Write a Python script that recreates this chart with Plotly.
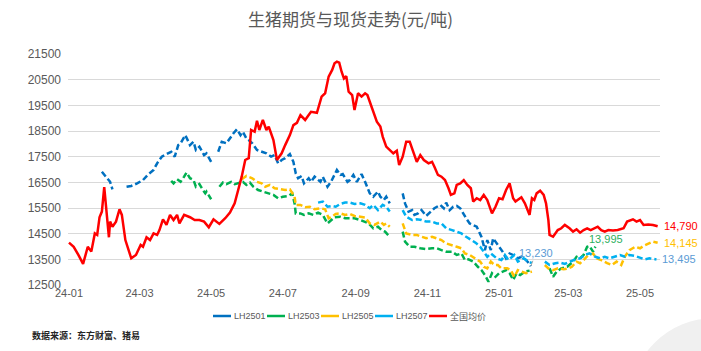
import pandas as pd
import plotly.graph_objects as go

BASE = pd.Timestamp("2024-01-01")

# (days since 2024-01-01, value); None marks a trading gap
lh2501 = [(28,16910),(32,16660),(35,16520),(37,16230),(43,None),(49,16330),(53,16360),(58,16460),(63,16590),
          (67,16790),(72,16980),(75,17240),(79,17500),(83,17600),(87,17690),(90,17500),(93,17950),(95,18020),
          (99,18340),(103,17950),(106,18080),(108,17760),(111,17890),(115,17560),(117,17630),(121,17300),
          (124,None),(127,17690),(130,18080),(134,18020),(138,18300),(140,18410),(143,18570),(146,18340),
          (148,18470),(151,18210),(153,18150),(156,18020),(160,17760),(164,17690),(168,17630),(172,17500),
          (175,17560),(178,17240),(181,17370),(184,17440),(188,17600),(191,17300),(193,16850),(195,16660),
          (198,16750),(200,16460),(204,16660),(206,16520),(209,16720),(214,16520),(216,16720),(220,16330),
          (223,16520),(228,16980),(231,16790),(233,16820),(237,16520),(239,16590),(242,16790),(245,16520),
          (247,16660),(249,16820),(252,16520),(256,16070),(259,15940),(263,16140),(265,15940),(268,15810),
          (270,15940),(273,15680),(279,None),(284,16070),(286,15680),(289,15360),(292,15420),(294,15230),
          (297,15290),(300,15420),(304,15190),(308,15360),(311,15490),(316,15620),(319,15490),(321,15710),
          (324,15420),(327,15550),(330,15580),(333,15490),(336,15230),(338,15100),(341,14900),(344,14840),
          (347,14770),(349,14580),(351,14380),(354,13860),(356,14250),(359,13860),(361,14320),(363,14190),
          (366,13990),(369,13800),(372,13540),(375,13730),(378,13670),(382,13540),(385,13600),(389,13470),
          (392,13320),(393,13230)]

lh2503 = [(87,16560),(89,16460),(92,16620),(95,16520),(98,16720),(100,16880),(103,16660),(106,16590),
          (108,16330),(111,16430),(114,16200),(116,16070),(117,16140),(121,15840),(124,None),(128,16330),
          (131,16490),(134,16430),(138,16520),(141,16430),(145,16490),(148,16520),(151,16400),(154,16490),
          (157,16330),(161,16200),(165,16140),(170,16070),(174,16010),(178,15880),(182,15940),(187,15970),
          (190,16070),(192,15680),(193,15290),(197,15290),(200,15230),(204,15290),(208,15230),(212,15320),
          (216,15230),(220,14900),(223,15030),(226,15140),(231,15160),(235,15100),(239,15100),(243,15100),
          (248,15030),(252,14970),(255,14900),(259,14710),(263,14770),(266,14640),(269,14580),(273,14380),
          (279,None),(284,14580),(286,14190),(290,13990),(294,13990),(299,13930),(304,13900),(309,13930),
          (313,13930),(317,13860),(321,13800),(326,13800),(330,13670),(334,13730),(337,13470),(340,13500),
          (344,13410),(348,13210),(351,13080),(354,12890),(357,12630),(360,12960),(363,12820),(366,12960),
          (370,13020),(372,13080),(375,12960),(378,12700),(381,12960),(384,12890),(388,13020),(392,13060),
          (400,None),(409,13150),(412,12820),(415,13020),(419,13150),(424,13210),(426,13280),(429,13410),
          (432,13600),(435,13540),(438,13670),(441,13990),(443,14020),(446,13800),(448,13995)]

lh2505 = [(147,16620),(151,16750),(156,16660),(160,16520),(164,16460),(167,16330),(171,16400),(175,16270),
          (180,16230),(184,16200),(188,16230),(192,15940),(193,15620),(197,15620),(201,15530),(205,15550),
          (209,15450),(214,15490),(218,15450),(221,15100),(224,15160),(227,15270),(231,15290),(235,15230),
          (239,15270),(243,15190),(248,15160),(252,15130),(256,14900),(260,14840),(265,14970),(268,14840),
          (270,14900),(273,14770),(279,None),(284,14900),(287,14510),(292,14450),(296,14450),(300,14380),
          (304,14320),(309,14380),(313,14320),(317,14250),(321,14120),(326,14060),(330,13990),(334,13930),
          (337,13730),(341,13670),(346,13540),(350,13410),(353,13210),(356,13150),(359,13410),(362,13280),
          (365,13280),(368,13150),(373,13150),(376,13080),(379,12820),(382,13080),(385,13020),(389,12960),
          (394,13020),(400,None),(405,13280),(408,13150),(412,13080),(416,13150),(421,13110),(425,13150),
          (428,13210),(432,13410),(435,13350),(438,13470),(442,13670),(446,13730),(449,13540),(453,13470),
          (458,13350),(462,13280),(466,13410),(470,13280),(473,13600),(477,13860),(482,13990),(486,13930),
          (489,14020),(493,14120),(497,14190),(501,14145)]

lh2507 = [(212,15710),(216,15750),(220,15550),(224,15580),(227,15550),(231,15660),(235,15710),(239,15710),
          (243,15660),(248,15680),(252,15620),(256,15490),(259,15620),(263,15420),(267,15620),(270,15550),
          (273,15360),(279,None),(284,15420),(287,15160),(292,15030),(296,15060),(300,15030),(304,14970),
          (309,14970),(313,14900),(317,14900),(321,14710),(326,14640),(330,14580),(334,14510),(338,14380),
          (343,14250),(346,14150),(350,13990),(353,13800),(356,13600),(359,13730),(362,13600),(364,13540),
          (368,13470),(371,13670),(374,13470),(376,13540),(379,13670),(382,13410),(387,13540),(391,13410),
          (394,13350),(400,None),(405,13410),(409,13280),(414,13350),(418,13370),(422,13320),(426,13410),
          (431,13500),(435,13540),(439,13670),(443,13730),(448,13600),(452,13540),(456,13600),(460,13540),
          (465,13600),(469,13670),(473,13600),(477,13670),(482,13630),(486,13580),(490,13500),(494,13540),
          (500,13495)]

spot = [(0,14150),(4,13990),(8,13670),(12,13320),(16,13990),(19,13800),(22,14510),(24,14450),(26,15140),
        (28,15360),(30,16310),(32,15400),(34,14360),(35,14970),(37,14770),(40,14970),(43,15450),(45,15230),
        (48,14250),(53,13540),(57,13670),(61,14060),(63,13990),(66,14360),(69,14250),(72,14510),(75,14450),
        (77,14640),(80,15060),(83,14840),(86,15230),(89,15030),(92,15230),(94,14900),(98,15230),(103,15140),
        (107,15030),(111,15030),(115,14970),(119,14750),(123,15060),(128,14880),(133,15100),(137,15320),
        (141,15680),(144,16200),(147,16720),(150,17370),(153,17440),(155,18540),(158,18470),(160,18900),
        (162,18540),(165,18930),(168,18540),(170,18670),(174,18150),(177,17370),(179,17500),(181,17630),
        (184,17950),(188,18340),(191,18730),(194,18820),(197,19120),(201,18930),(204,19120),(206,19250),
        (211,19210),(215,19840),(218,19970),(221,20620),(224,20880),(226,21140),(228,21200),(230,21160),
        (232,20810),(234,20550),(236,20640),(238,20030),(241,19900),(243,19320),(246,19970),(249,19840),
        (252,19970),(254,19900),(256,19640),(259,19250),(262,18860),(265,18670),(267,18280),(270,17890),
        (273,17760),(276,17630),(279,17730),(281,17170),(284,17500),(287,18080),(290,18080),(293,17690),
        (296,17300),(299,17560),(302,17370),(306,17240),(309,17300),(311,17110),(314,16790),(317,16720),
        (320,16590),(323,16270),(325,16010),(328,16070),(330,16400),(333,16460),(336,16590),(339,16400),
        (342,16270),(344,15750),(347,15880),(350,15810),(353,16010),(356,15810),(360,15290),(363,15550),
        (366,15880),(369,15840),(372,16200),(375,16460),(378,15880),(380,15750),(382,15810),(385,15920),
        (388,15680),(392,15230),(394,15880),(396,15810),(398,16070),(401,16170),(404,16010),(406,15680),
        (408,15030),(409,14450),(412,14380),(414,14510),(416,14640),(419,14710),(422,14840),(426,14710),
        (429,14580),(432,14670),(435,14540),(438,14640),(441,14710),(444,14640),(447,14710),(450,14770),
        (453,14640),(456,14580),(459,14640),(463,14620),(467,14640),(472,14710),(475,14970),(478,15010),
        (480,15060),(483,14970),(486,15030),(489,14840),(493,14860),(497,14840),(501,14790)]

series_names = ["LH2501", "LH2503", "LH2505", "LH2507", "全国均价"]
series_colors = ["#0070C0", "#00B050", "#FFC000", "#00B0F0", "#FF0000"]
series_data = [lh2501, lh2503, lh2505, lh2507, spot]

y_ticks = list(range(12500, 22500, 1000))

def split(pairs):
    xs = [BASE + pd.Timedelta(days=d) for d, _ in pairs]
    ys = [v for _, v in pairs]
    return xs, ys

fig = go.Figure()
for name, color, data in zip(series_names, series_colors, series_data):
    xs, ys = split(data)
    dashed = name != "全国均价"
    fig.add_trace(go.Scatter(
        x=xs, y=ys, name=name, mode="lines", connectgaps=False, showlegend=False,
        line=dict(color=color, width=2.5, dash="6px,3px" if dashed else "solid"),
    ))

def last(pairs):
    d, v = pairs[-1]
    return BASE + pd.Timedelta(days=d), v

annos = []
for data, color in [(spot, "#FF0000"), (lh2505, "#FFC000"), (lh2507, "#5B9BD5")]:
    x, v = last(data)
    annos.append(dict(x=x, y=v, text=f"{v:,}", showarrow=False, xanchor="left", xshift=4,
                      font=dict(size=11, color=color, family="Liberation Sans, Arial")))
x, v = last(lh2503)
annos.append(dict(x=x, y=v, text=f"{v:,}", showarrow=False, xanchor="center", xshift=11, yshift=8,
                  font=dict(size=11, color="#2EAF5E", family="Liberation Sans, Arial")))
x, v = last(lh2501)
annos.append(dict(x=x, y=v, text=f"{v:,}", showarrow=True, arrowhead=0, arrowwidth=1,
                  arrowcolor="#A6A6A6", ax=5, ay=-13, standoff=0,
                  font=dict(size=11, color="#5B9BD5", family="Liberation Sans, Arial")))
annos.append(dict(xref="paper", yref="paper", x=-0.064, y=-0.22, xanchor="left", yanchor="middle",
                  text="<b>数据来源：东方财富、猪易</b>", showarrow=False,
                  font=dict(size=9, color="#262626", family="Noto Sans CJK SC")))

# compact legend (line key + label), laid out in paper coordinates under the plot
PLOT_L, PLOT_W, PLOT_B, PLOT_H = 68, 592, 285, 231
def px_x(px):
    return (px - PLOT_L) / PLOT_W
def px_y(py):
    return (PLOT_B - py) / PLOT_H

legend_y = 316
legend_start = 213
legend_pitch = 54
for i, (name, color) in enumerate(zip(series_names, series_colors)):
    x0 = legend_start + i * legend_pitch
    fig.add_shape(type="line", xref="paper", yref="paper",
                  x0=px_x(x0), x1=px_x(x0 + 18), y0=px_y(legend_y), y1=px_y(legend_y),
                  line=dict(color=color, width=2.5))
    annos.append(dict(xref="paper", yref="paper", x=px_x(x0 + 19), y=px_y(legend_y),
                      xanchor="left", yanchor="middle", text=name, showarrow=False,
                      font=dict(size=9, color="#595959", family="Liberation Sans, Noto Sans CJK SC")))

fig.update_layout(
    width=701, height=351,
    margin=dict(l=68, r=41, t=54, b=66),
    paper_bgcolor="white", plot_bgcolor="white",
    title=dict(text="生猪期货与现货走势(元/吨)", x=0.5, xanchor="center", y=0.943, yanchor="middle",
               font=dict(size=17, color="#595959", family="Noto Sans CJK SC")),
    showlegend=False,
    annotations=annos,
    xaxis=dict(type="date", range=[BASE - pd.Timedelta(hours=20), BASE + pd.Timedelta(days=503)],
               tickformat="%y-%m", dtick="M2", tick0="2024-01-01", showgrid=False, zeroline=False,
               showline=False, ticks="", tickfont=dict(size=11, color="#595959", family="Liberation Sans, Arial")),
    yaxis=dict(range=[12500, 21500], tickvals=y_ticks, tickformat="d", showgrid=True, gridcolor="#D9D9D9",
               gridwidth=1, zeroline=False, showline=False, ticks="", ticklabelstandoff=6,
               tickfont=dict(size=12, color="#595959", family="Liberation Sans, Arial")),
    font=dict(family="Liberation Sans, Noto Sans CJK SC"),
)
fig.add_shape(type="circle", xref="paper", yref="paper", x0=px_x(630), x1=px_x(800),
              y0=px_y(485), y1=px_y(318), fillcolor="#F0F0F0", line=dict(width=0), layer="below")

fig.write_html("out.html")
